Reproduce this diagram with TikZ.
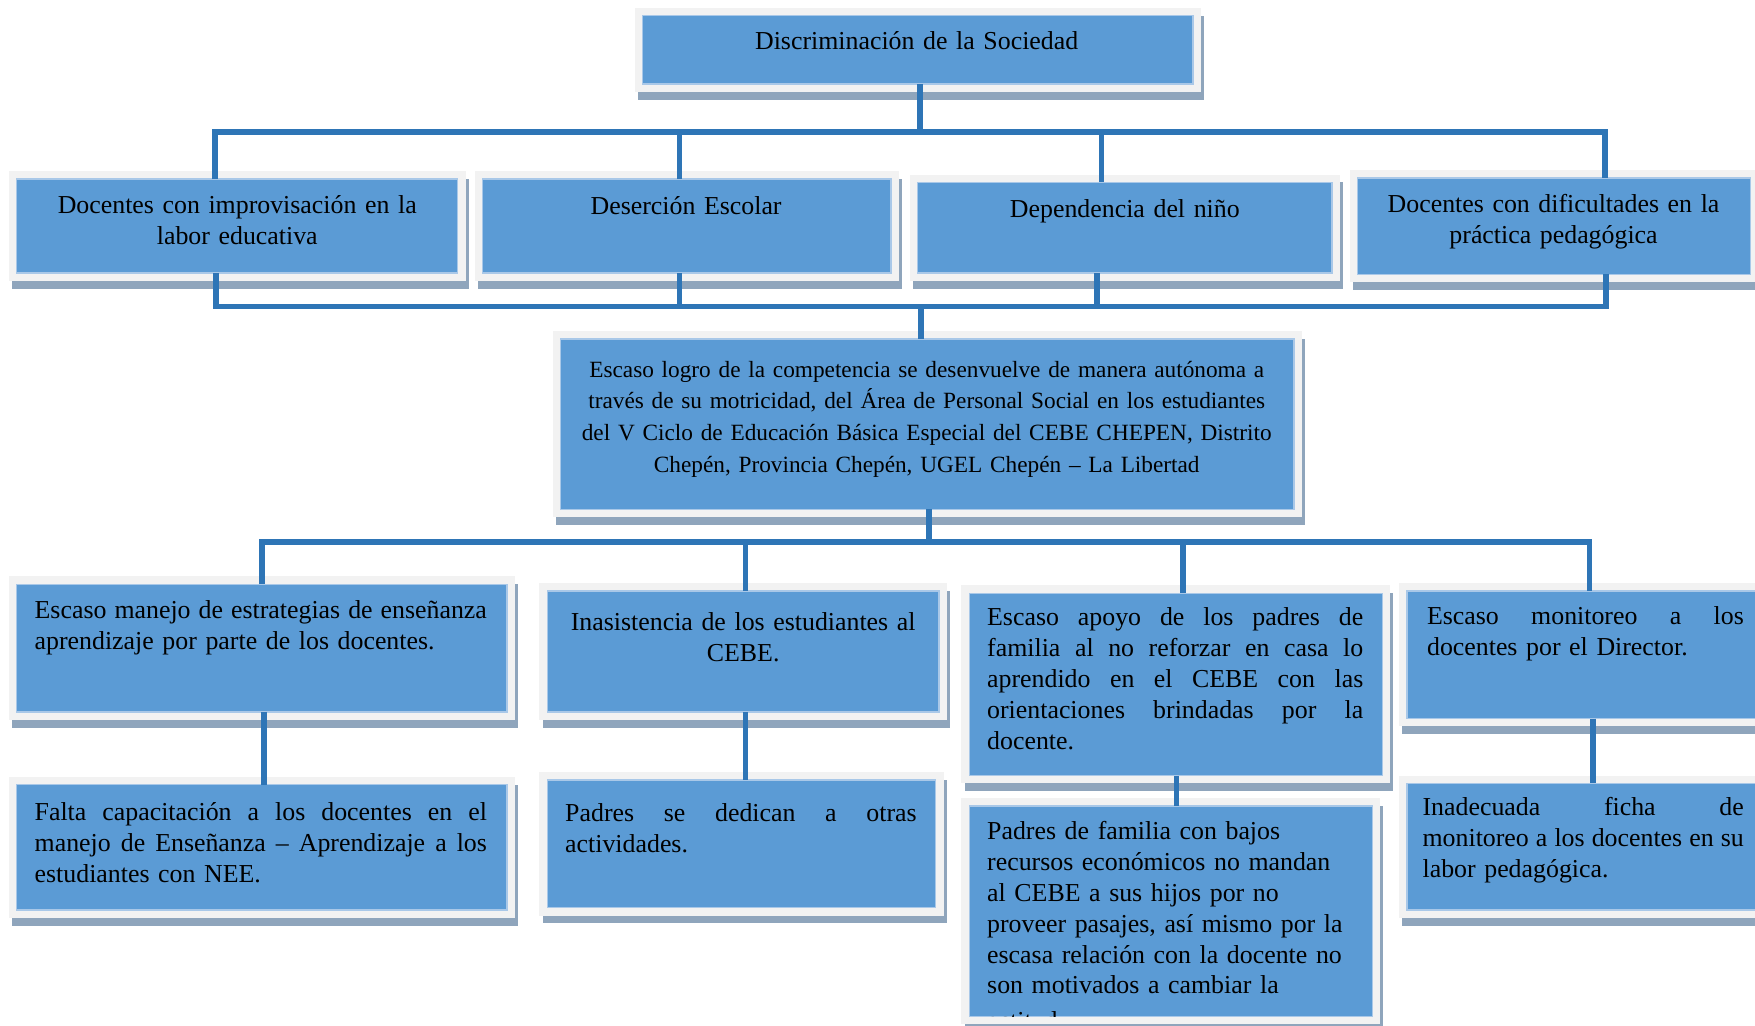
\documentclass[tikz,border=0pt]{standalone}
\usepackage{fontspec}
\setmainfont{Liberation Serif}
\usetikzlibrary{fit}
\definecolor{boxblue}{HTML}{5B9BD5}
\definecolor{boxedge}{HTML}{A9C8E8}
\definecolor{framegrey}{HTML}{F2F2F2}
\definecolor{shadowgrey}{HTML}{8FA5BC}
\definecolor{conncol}{HTML}{2E75B6}
\tikzset{
  shadowfill/.style={fill=shadowgrey},
  framefill/.style={fill=framegrey},
  bluebox/.style={fill=boxblue, draw=boxedge, line width=0.6bp, inner sep=0pt, outer sep=0pt},
  conn/.style={draw=conncol, line width=2.5bp, line join=miter},
  txt/.style={inner sep=0pt, outer sep=0pt, font=\fontsize{11.55bp}{13.8bp}\selectfont, text=black},
  ctxt/.style={txt, align=center, anchor=base},
  ltxt/.style={txt, align=left, anchor=base west},
}
\newcommand\jl[2]{\leavevmode\hbox to #1{\spaceskip=0.25em plus 1fil minus 0.09em\relax #2}}
\newcommand\probbox[5]{%
  \fill[shadowfill] ({#2-7+3},{#3-7+7}) rectangle ({#4+7+3},{#5+7+7});
  \fill[framefill] ({#2-7},{#3-7}) rectangle ({#4+7},{#5+7});
  \node[bluebox, fit={(#2,#3) (#4,#5)}] (#1) {};}
\begin{document}
\begin{tikzpicture}[x=0.5bp,y=-0.5bp]
\useasboundingbox (0,0) rectangle (1568,916);
\fill[white] (0,0) rectangle (1568,916);
\clip (0,0) rectangle (1568,916);

% boxes
\probbox{top}{574}{14}{1066}{75}
\probbox{A}{15}{160}{409}{244}
\probbox{B}{431}{160}{796}{244}
\probbox{C}{820}{163}{1190}{244}
\probbox{D}{1213}{159}{1564}{245}
\probbox{mid}{501}{303}{1156}{455}
\probbox{E}{15}{522}{453}{636}
\probbox{F}{489}{528}{839}{636}
\probbox{G}{866}{530}{1235}{693}
\probbox{H}{1257}{528}{1585}{642}
\probbox{I}{15}{701}{453}{813}
\probbox{J}{489}{697}{836}{811}
\probbox{K}{866}{720}{1226}{908}
\probbox{L}{1257}{700}{1585}{813}

% texts
\node[ctxt, text width=240bp] (topt) at (819,44) {Discriminación de la Sociedad};
\node[ctxt, text width=195bp] (At) at (212,191) {Docentes con improvisación en la\\labor educativa};
\node[ctxt, text width=180bp] (Bt) at (613,192) {Deserción Escolar};
\node[ctxt, text width=180bp] (Ct) at (1005,194) {Dependencia del niño};
\node[ctxt, text width=175bp] (Dt) at (1388,190) {Docentes con dificultades en la\\práctica pedagógica};
\node[ctxt, text width=325bp, font=\fontsize{10.4bp}{14.15bp}\selectfont] (midt) at (828,337)
  {Escaso logro de la competencia se desenvuelve de manera autónoma a\\través de su motricidad, del Área de Personal Social en los estudiantes\\del V Ciclo de Educación Básica Especial del CEBE CHEPEN, Distrito\\Chepén, Provincia Chepén, UGEL Chepén – La Libertad};
\node[ltxt, text width=202bp] (Et) at (31,553)
  {\jl{202bp}{Escaso manejo de estrategias de enseñanza}\\aprendizaje por parte de los docentes.};
\node[ctxt, text width=170bp] (Ft) at (664,563) {Inasistencia de los estudiantes al\\CEBE.};
\node[ltxt, text width=168bp] (Gt) at (882,559)
  {\jl{168bp}{Escaso apoyo de los padres de}\\\jl{168bp}{familia al no reforzar en casa lo}\\\jl{168bp}{aprendido en el CEBE con las}\\\jl{168bp}{orientaciones brindadas por la}\\docente.};
\node[ltxt, text width=141.5bp] (Ht) at (1275,558)
  {\jl{141.5bp}{Escaso monitoreo a los}\\docentes por el Director.};
\node[ltxt, text width=202bp] (It) at (31,733)
  {\jl{202bp}{Falta capacitación a los docentes en el}\\\jl{202bp}{manejo de Enseñanza – Aprendizaje a los}\\estudiantes con NEE.};
\node[ltxt, text width=157bp] (Jt) at (505,734)
  {\jl{157bp}{Padres se dedican a otras}\\actividades.};
\begin{scope}
\clip (866,720) rectangle (1226,908);
\node[ltxt, text width=175bp] (Kt) at (882,750)
  {Padres de familia con bajos\\recursos económicos no mandan\\al CEBE a sus hijos por no\\proveer pasajes, así mismo por la\\escasa relación con la docente no\\son motivados a cambiar la\\[2bp]actitud.};
\end{scope}
\node[ltxt, text width=143.5bp] (Lt) at (1271,729)
  {\jl{143.5bp}{Inadecuada ficha de}\\\jl{143.5bp}{monitoreo a los docentes en su}\\labor pedagógica.};

% junction coordinates
\coordinate (t1) at (822,118);
\coordinate (a1) at (192,118);
\coordinate (b1) at (607,118);
\coordinate (c1) at (984,118);
\coordinate (d1) at (1434,118);
\coordinate (a2) at (193,274);
\coordinate (b2) at (607,274);
\coordinate (c2) at (980,274);
\coordinate (d2) at (1435,274);
\coordinate (m2) at (823,274);
\coordinate (m3) at (830,484);
\coordinate (e3) at (234,484);
\coordinate (f3) at (666,484);
\coordinate (g3) at (1057,484);
\coordinate (h3) at (1420,484);
\coordinate (e4) at (236,670);
\coordinate (f4) at (666,670);
\coordinate (g4) at (1051,705);
\coordinate (h4) at (1423,670);

% connectors
\draw[conn] (top.south -| t1) -- (t1);
\draw[conn] (A.north -| a1) -- (a1) -- (d1) -- (D.north -| d1);
\draw[conn] (b1) -- (B.north -| b1);
\draw[conn] (c1) -- (C.north -| c1);
\draw[conn] (A.south -| a2) -- (a2) -- (d2) -- (D.south -| d2);
\draw[conn] (B.south -| b2) -- (b2);
\draw[conn] (C.south -| c2) -- (c2);
\draw[conn] (m2) -- (mid.north -| m2);
\draw[conn] (mid.south -| m3) -- (m3);
\draw[conn] (E.north -| e3) -- (e3) -- (h3) -- (H.north -| h3);
\draw[conn] (f3) -- (F.north -| f3);
\draw[conn] (g3) -- (G.north -| g3);
\draw[conn] (E.south -| e4) -- (I.north -| e4);
\draw[conn] (F.south -| f4) -- (J.north -| f4);
\draw[conn] (G.south -| g4) -- (K.north -| g4);
\draw[conn] (H.south -| h4) -- (L.north -| h4);
\end{tikzpicture}
\end{document}
